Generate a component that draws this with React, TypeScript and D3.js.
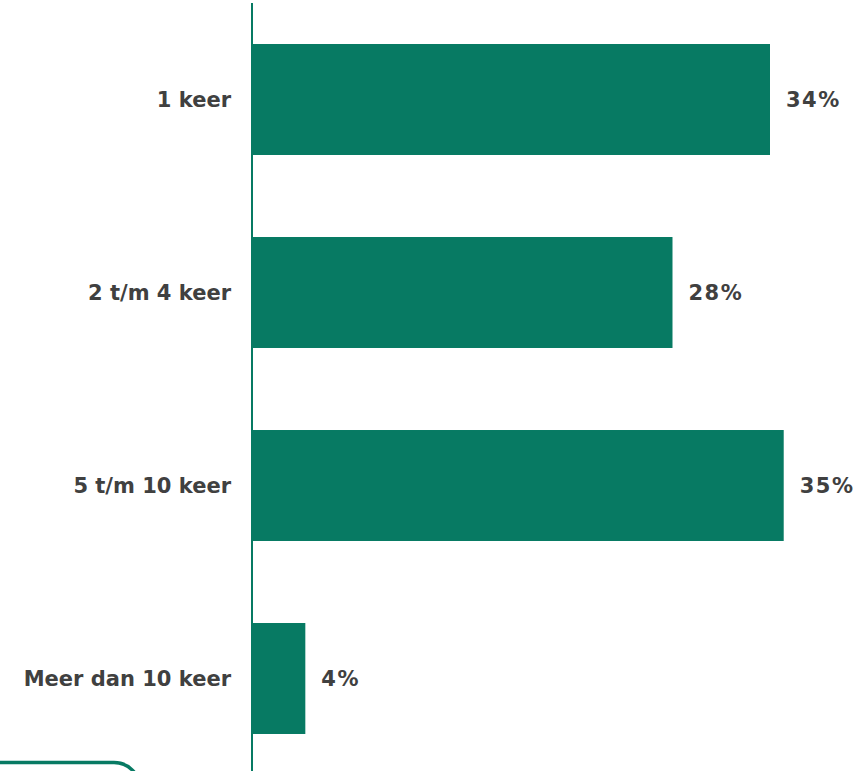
import React from "react";
import * as d3 from "d3";

const categories = ["1 keer", "2 t/m 4 keer", "5 t/m 10 keer", "Meer dan 10 keer"];
const values = [34, 27.6, 34.9, 3.5];
const valueLabels = ["34%", "28%", "35%", "4%"];

const W = 857;
const H = 771;
const GREEN = "#077a63";
const TEXT = "#404040";
const FONT = "Verdana, 'DejaVu Sans', sans-serif";

export default function App() {
  const x0 = 252;
  const x = d3.scaleLinear().domain([0, 34]).range([x0, 770]);
  const y = d3
    .scaleBand<string>()
    .domain(categories)
    .range([3, 775])
    .paddingInner(0.425)
    .paddingOuter(0.2125);

  return (
    <svg
      width={W}
      height={H}
      style={{ position: "absolute", left: 0, top: 0, background: "#fff" }}
    >
      {categories.map((c, i) => {
        const yy = y(c)!;
        const bw = y.bandwidth();
        const cy = yy + bw / 2;
        return (
          <g key={c}>
            <rect x={x0} y={yy} width={x(values[i]) - x0} height={bw} fill={GREEN} />
            <text
              x={231}
              y={cy}
              textAnchor="end"
              dominantBaseline="central"
              fontFamily={FONT}
              fontWeight="bold"
              fontSize={21}
              fill={TEXT}
            >
              {c}
            </text>
            <text
              x={x(values[i]) + 16}
              y={cy}
              dominantBaseline="central"
              fontFamily={FONT}
              fontWeight="bold"
              fontSize={21}
              letterSpacing={1.5}
              fill={TEXT}
            >
              {valueLabels[i]}
            </text>
          </g>
        );
      })}
      <line x1={x0} x2={x0} y1={3} y2={H} stroke={GREEN} strokeWidth={2} />
      <rect
        x={-30}
        y={762.5}
        width={170}
        height={80}
        rx={26}
        ry={26}
        fill="none"
        stroke={GREEN}
        strokeWidth={3.5}
      />
    </svg>
  );
}
